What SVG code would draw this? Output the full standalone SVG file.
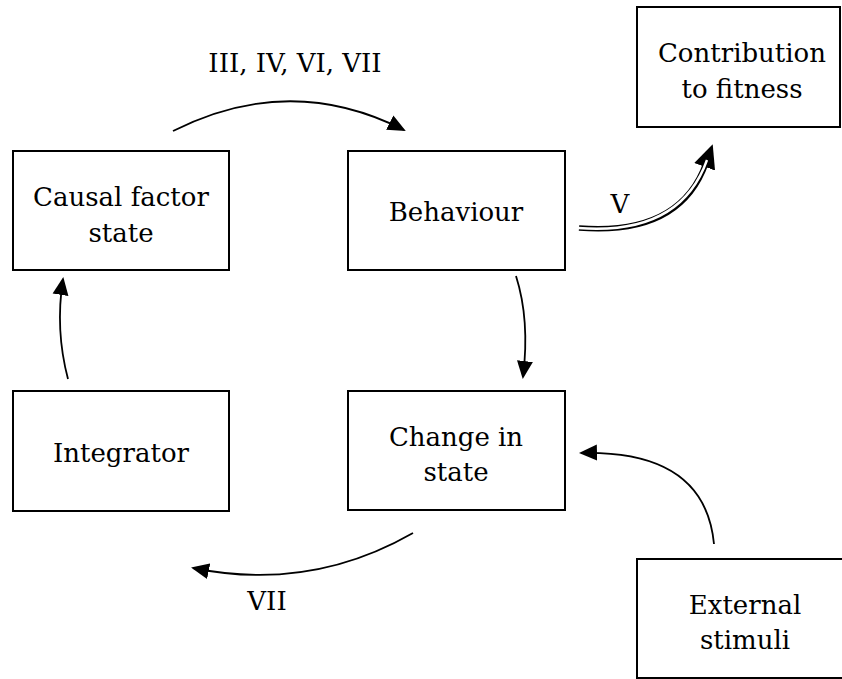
<svg xmlns="http://www.w3.org/2000/svg" width="842" height="679" viewBox="0 0 842 679">
<style>
.box{fill:#fff;stroke:#000;stroke-width:2}
.t{font-family:'DejaVu Serif','Liberation Serif',serif;font-size:26px;fill:#000;text-anchor:middle}
.c{fill:none;stroke:#000;stroke-width:1.8}
</style>
<defs>
<marker id="ah" markerUnits="userSpaceOnUse" markerWidth="18" markerHeight="18" viewBox="0 0 18 18" refX="16" refY="9" orient="auto">
<path d="M0,1 L18,9 L0,17 Z" fill="#000"/>
</marker>
<marker id="ah2" markerUnits="userSpaceOnUse" markerWidth="24" markerHeight="24" viewBox="0 0 24 24" refX="4" refY="12" orient="auto">
<path d="M0,1 L24,12 L0,23 Z" fill="#000"/>
</marker>
</defs>
<rect width="842" height="679" fill="#fff"/>
<g id="connectors">
<path class="c" d="M173,131 Q290,72 404,130" marker-end="url(#ah)"/>
<path fill="none" stroke="#000" stroke-width="5.5" d="M579,228 Q680,236 706,163" marker-end="url(#ah2)"/>
<path fill="none" stroke="#fff" stroke-width="2.4" d="M578,228 Q680,236 707,160"/>
<path class="c" d="M516,276 Q530,320 523,377" marker-end="url(#ah)"/>
<path class="c" d="M413,533 Q310,592 193,568" marker-end="url(#ah)"/>
<path class="c" d="M68,379 Q55,330 63,279" marker-end="url(#ah)"/>
<path class="c" d="M714,544 Q705,450 581,453" marker-end="url(#ah)"/>
</g>
<g id="labels">
<text class="t" x="295" y="72">III, IV, VI, VII</text>
<text class="t" x="620" y="213">V</text>
<text class="t" x="267" y="610">VII</text>
</g>
<g id="causal">
<rect class="box" x="13" y="151" width="216" height="119"/>
<text class="t" x="121" y="206">Causal factor</text>
<text class="t" x="121" y="242">state</text>
</g>
<g id="behaviour">
<rect class="box" x="348" y="151" width="217" height="119"/>
<text class="t" x="456" y="221">Behaviour</text>
</g>
<g id="contribution">
<rect class="box" x="637" y="7" width="203" height="120"/>
<text class="t" x="742" y="62">Contribution</text>
<text class="t" x="742" y="98">to fitness</text>
</g>
<g id="integrator">
<rect class="box" x="13" y="391" width="216" height="120"/>
<text class="t" x="121" y="462">Integrator</text>
</g>
<g id="change">
<rect class="box" x="348" y="391" width="217" height="119"/>
<text class="t" x="456" y="446">Change in</text>
<text class="t" x="456" y="481">state</text>
</g>
<g id="external">
<rect class="box" x="637" y="559" width="217" height="119"/>
<text class="t" x="745" y="614">External</text>
<text class="t" x="745" y="649">stimuli</text>
</g>
</svg>
